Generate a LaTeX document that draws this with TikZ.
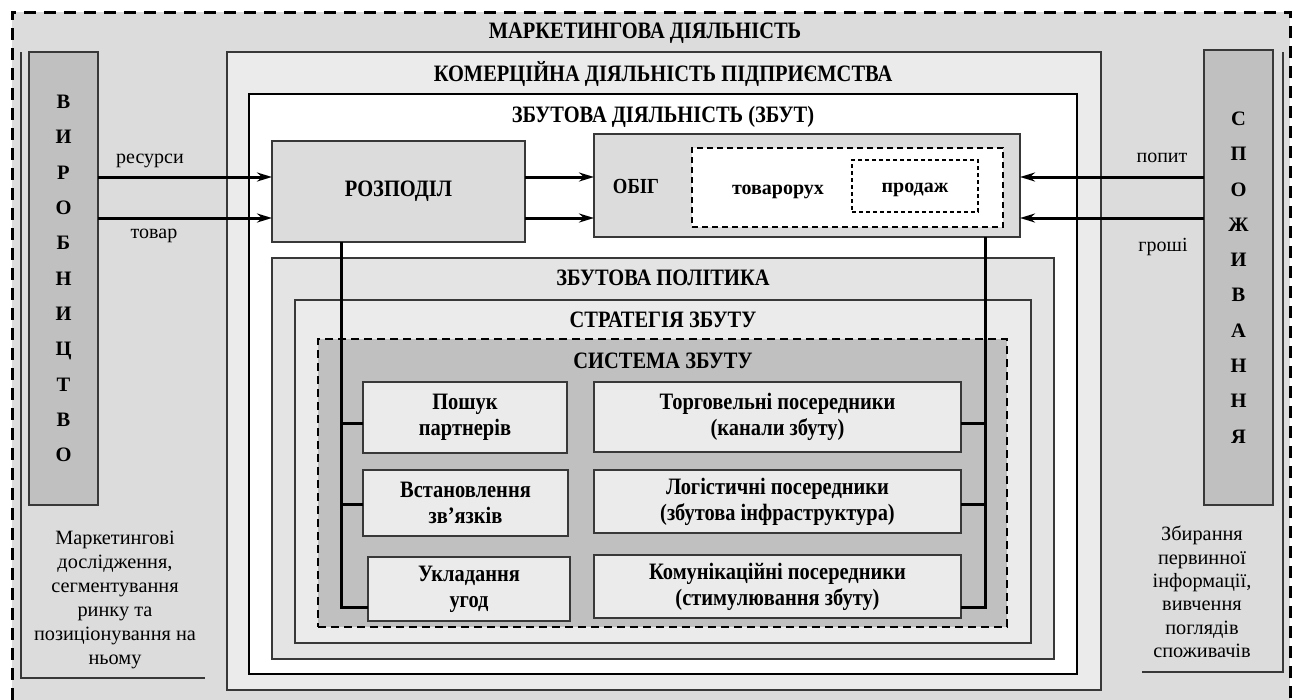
\documentclass[tikz,border=0pt]{standalone}
\usepackage{fontspec}
\setmainfont{Liberation Serif}
\newfontfamily\cbf{Liberation Serif}[FakeStretch=0.87]
\usetikzlibrary{arrows.meta}
\definecolor{bgA}{HTML}{DCDCDC}
\definecolor{bgB}{HTML}{EBEBEB}
\definecolor{bgC}{HTML}{C0C0C0}
\definecolor{bgD}{HTML}{E4E4E4}
\definecolor{edgec}{HTML}{383838}
\newcommand\rbox[7][]{\node[#1, anchor=north west, minimum width={(#5-#3)*1pt}, minimum height={(#6-#4)*1pt}] (#2) at (#3,#4) {#7};}
\begin{document}
\begin{tikzpicture}[x=1pt,y=-1pt,
  font=\fontsize{20}{24}\selectfont,
  every node/.style={outer sep=0pt, inner sep=0pt},
  frame/.style={draw=edgec, line width=1.2pt},
  outerbox/.style={fill=bgA, draw=black, line width=3pt, dash pattern=on 12pt off 8pt},
  cont/.style={frame, fill=bgB},
  polbox/.style={frame, fill=bgD},
  actbox/.style={draw=black, line width=2.8pt, fill=white},
  sysbox/.style={draw=black, line width=2pt, dash pattern=on 8pt off 5pt, fill=bgC},
  gbox/.style={frame, fill=bgA, font=\cbf\bfseries\fontsize{23.5}{26}\selectfont},
  flowbox/.style={draw=black, line width=1.6pt, dash pattern=on 6pt off 4pt, fill=white},
  salebox/.style={draw=black, line width=1.1pt, dash pattern=on 4pt off 3pt, fill=white},
  small/.style={frame, fill=bgB, align=center, font=\cbf\bfseries\fontsize{23.5}{26}\selectfont},
  vert/.style={frame, fill=bgC, align=center, font=\bfseries\fontsize{20.5}{35.3}\selectfont},
  ttl/.style={font=\cbf\bfseries\fontsize{23.5}{26}\selectfont, text height=15.5pt, text depth=0pt, anchor=center},
  bold/.style={font=\bfseries\fontsize{20}{24}\selectfont, anchor=base},
  lbl/.style={font=\fontsize{20}{24}\selectfont, anchor=base},
  sidetxt/.style={align=center},
  panel/.style={draw=edgec, line width=1.3pt},
  conn/.style={draw=black, line width=3pt, line join=miter},
  arr/.style={conn, -{Stealth[length=15pt, width=9pt]}}
]
\useasboundingbox (0,0) rectangle (1292,699);
% outer frame
\rbox[outerbox]{mkt}{12}{12}{1290}{740}{}
\node[ttl] (tM) at (645,31) {МАРКЕТИНГОВА ДІЯЛЬНІСТЬ};
% side panels
\draw[panel] (21,52) -- (21,678) -- (205,678);
\draw[panel] (1283,52) -- (1283,672) -- (1142,672);
\rbox[vert]{prod}{29}{52}{98}{505}{В\\И\\Р\\О\\Б\\Н\\И\\Ц\\Т\\В\\О}
\rbox[vert]{cons}{1204}{50}{1273}{505}{С\\П\\О\\Ж\\И\\В\\А\\Н\\Н\\Я}
\node[sidetxt, font=\fontsize{20.3}{24}\selectfont] (ltxt) at (115,600) {Маркетингові\\дослідження,\\сегментування\\ринку та\\позиціонування на\\ньому};
\node[sidetxt, font=\fontsize{20.3}{23.4}\selectfont] (rtxt) at (1202,592) {Збирання\\первинної\\інформації,\\вивчення\\поглядів\\споживачів};
% nested containers
\rbox[cont]{kom}{227}{52}{1101}{690}{}
\node[ttl] (tK) at (663,74) {КОМЕРЦІЙНА ДІЯЛЬНІСТЬ ПІДПРИЄМСТВА};
\rbox[actbox]{zbut}{249}{94}{1077}{674}{}
\node[ttl] (tZ) at (663,115) {ЗБУТОВА ДІЯЛЬНІСТЬ (ЗБУТ)};
\rbox[gbox]{rozp}{272}{141}{525}{242}{РОЗПОДІЛ}
\rbox[gbox]{obig}{594}{134}{1020}{237}{}
\node[bold, font=\cbf\bfseries\fontsize{21.5}{24}\selectfont] (obigT) at (636,193) {ОБІГ};
\rbox[flowbox]{flow}{692}{148}{1003}{227}{}
\node[bold] (flowT) at (778,194) {товарорух};
\rbox[salebox]{sale}{852}{160}{978}{212}{}
\node[bold] (saleT) at (915,192) {продаж};
\rbox[polbox]{pol}{272}{258}{1054}{659}{}
\node[ttl] (tP) at (663,278) {ЗБУТОВА ПОЛІТИКА};
\rbox[cont]{str}{295}{300}{1031}{643}{}
\node[ttl] (tS) at (663,320) {СТРАТЕГІЯ ЗБУТУ};
\rbox[sysbox]{sys}{318}{339}{1007}{627}{}
\node[ttl] (tC) at (663,361) {СИСТЕМА ЗБУТУ};
% small boxes
\rbox[small]{b1}{363}{382}{567}{453}{Пошук\\партнерів}
\rbox[small]{b2}{363}{470}{568}{536}{Встановлення\\зв’язків}
\rbox[small]{b3}{368}{557}{570}{621}{Укладання\\угод}
\rbox[small]{c1}{594}{382}{961}{452}{Торговельні посередники\\(канали збуту)}
\rbox[small]{c2}{594}{470}{961}{533}{Логістичні посередники\\(збутова інфраструктура)}
\rbox[small]{c3}{594}{555}{961}{618}{Комунікаційні посередники\\(стимулювання збуту)}
% arrows
\coordinate (ya) at (0,177);
\coordinate (yb) at (0,218);
\draw[arr] (prod.east |- ya) -- (rozp.west |- ya);
\draw[arr] (prod.east |- yb) -- (rozp.west |- yb);
\draw[arr] (rozp.east |- ya) -- (obig.west |- ya);
\draw[arr] (rozp.east |- yb) -- (obig.west |- yb);
\draw[arr] (cons.west |- ya) -- (obig.east |- ya);
\draw[arr] (cons.west |- yb) -- (obig.east |- yb);
\node[lbl] (lres) at (150,163) {ресурси};
\node[lbl] (ltov) at (154,238) {товар};
\node[lbl] (lpop) at (1162,162) {попит};
\node[lbl] (lgr) at (1163,251) {гроші};
% connectors
\coordinate (lx) at (341,0);
\coordinate (rx) at (985,0);
\coordinate (t1) at (0,423);
\coordinate (t2) at (0,504);
\coordinate (t3) at (0,607);
\draw[conn] (rozp.south -| lx) -- (lx |- t3) -- (b3.west |- t3);
\draw[conn] (lx |- t1) -- (b1.west |- t1);
\draw[conn] (lx |- t2) -- (b2.west |- t2);
\draw[conn] (obig.south -| rx) -- (rx |- t3) -- (c3.east |- t3);
\draw[conn] (rx |- t1) -- (c1.east |- t1);
\draw[conn] (rx |- t2) -- (c2.east |- t2);
\end{tikzpicture}
\end{document}
